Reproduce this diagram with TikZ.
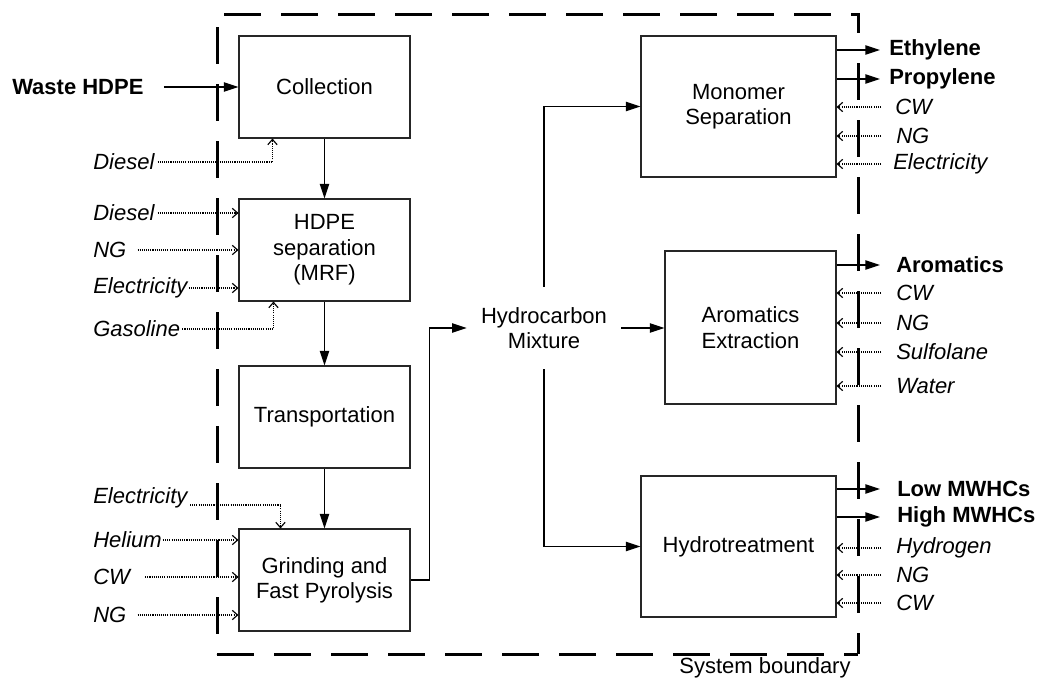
\documentclass[tikz,border=0pt]{standalone}
\usepackage{fontspec}
\setmainfont{Liberation Sans}
\usetikzlibrary{arrows.meta,calc}
\begin{document}
\begin{tikzpicture}[x=0.75pt,y=-0.75pt,
  font=\fontsize{16.5pt}{19pt}\selectfont,
  box/.style={draw=black!85, line width=0.8pt, rectangle, inner sep=0pt, align=center},
  smallbox/.style={box, minimum width=128.25pt, minimum height=76.5pt},
  bigbox/.style={box, minimum width=146.25pt, minimum height=105.75pt},
  flow/.style={line width=1pt, -{Triangle[length=11pt,width=7pt]}},
  inflow/.style={black, line width=0.85pt, dash pattern=on 0.8pt off 0.8pt, -{Straight Barb[length=4pt,width=7pt]}},
  lab/.style={inner sep=0pt, font=\fontsize{16.5pt}{19pt}\selectfont\itshape},
  blab/.style={inner sep=0pt, font=\fontsize{16.5pt}{19pt}\selectfont\bfseries},
  bnd/.style={line width=2.25pt, dash pattern=on 27.75pt off 15pt}
]
\useasboundingbox (0,0) rectangle (1037,678);

% system boundary
\draw[bnd, dash phase=33pt] (217,14) -- (217,654);
\draw[bnd, dash phase=37.5pt] (217,14) -- (858,14) -- (858,33);
\draw[bnd] (858,63) -- (858,654);
\draw[bnd] (217,654) -- (858,654);
\node[anchor=base] (sb) at (765,673) {System boundary};

% process boxes
\node[smallbox] (coll) at (324.5,87) {Collection};
\node[smallbox] (hdpe) at (324.5,250) {HDPE\\separation\\(MRF)};
\node[smallbox] (trans) at (324.5,417) {Transportation};
\node[smallbox] (grind) at (324.5,580) {Grinding and\\Fast Pyrolysis};
\node[bigbox] (mono) at (738.5,106.5) {Monomer\\Separation};
\node[box, minimum width=128.25pt, minimum height=114.75pt] (arom) at (750.5,327.5) {Aromatics\\Extraction};
\node[bigbox] (hydro) at (738.5,546.5) {Hydrotreatment};
\node[inner sep=0pt, minimum width=115.5pt, minimum height=61.5pt, align=center] (hc) at (544,328) {Hydrocarbon\\Mixture};

% main flows
\node[blab, anchor=west] (waste) at (12,87) {Waste HDPE};
\draw[flow] ([xshift=15pt]waste.east) -- (coll.west);
\draw[flow] (coll) -- (hdpe);
\draw[flow] (hdpe) -- (trans);
\draw[flow] (trans) -- (grind);
\draw[flow] (grind.east) -- ++(19,0) |- (hc.west);
\draw[flow] (hc.north) |- (mono.west);
\draw[flow] (hc.east) -- (hc.east -| arom.west);
\draw[flow] (hc.south) |- (hydro.west);

% left inputs
\node[lab, anchor=west] (d1) at (93,162) {Diesel};
\draw[inflow] ([xshift=2.25pt]d1.east) -| ([xshift=25.5pt]coll.south west);
\node[lab, anchor=west] (d2) at (93,213) {Diesel};
\draw[inflow] ([xshift=2.25pt]d2.east) -- (d2 -| hdpe.west);
\node[lab, anchor=west] (ng1) at (93,250) {NG};
\draw[inflow] ([xshift=8.25pt]ng1.east) -- (ng1 -| hdpe.west);
\node[lab, anchor=west] (el1) at (93,288) {Electricity};
\draw[inflow] ([xshift=0.75pt]el1.east) -- (el1 -| hdpe.west);
\node[lab, anchor=west] (gas) at (93,329) {Gasoline};
\draw[inflow] ([xshift=1.5pt]gas.east) -| ([xshift=26.25pt]hdpe.south west);
\node[lab, anchor=west] (el2) at (93,498) {Electricity};
\coordinate (el2s) at (190,505);
\draw[inflow] (el2s) -| ([xshift=31.5pt]grind.north west);
\node[lab, anchor=west] (he) at (93,540) {Helium};
\draw[inflow] ([xshift=0.75pt]he.east) -- (he -| grind.west);
\node[lab, anchor=west] (cw1) at (93,577) {CW};
\draw[inflow] ([xshift=11.25pt]cw1.east) -- (cw1 -| grind.west);
\node[lab, anchor=west] (ng2) at (93,615) {NG};
\draw[inflow] ([xshift=8.25pt]ng2.east) -- (ng2 -| grind.west);

% right side columns
\coordinate (tip) at (880,0);
\coordinate (src) at (881,0);

% monomer separation
\node[blab, anchor=west] (eth) at (889,50) {Ethylene};
\draw[flow] (eth -| mono.east) -- (eth -| tip);
\node[blab, anchor=west] (pro) at (889,79) {Propylene};
\draw[flow] (pro -| mono.east) -- (pro -| tip);
\node[lab, anchor=west] (mcw) at (895,107) {CW};
\draw[inflow] (mcw -| src) -- (mcw -| mono.east);
\node[lab, anchor=west] (mng) at (896,136) {NG};
\draw[inflow] (mng -| src) -- (mng -| mono.east);
\node[lab, anchor=west] (mel) at (893,164) {Electricity};
\draw[inflow] (mel -| src) -- (mel -| mono.east);

% aromatics extraction
\node[blab, anchor=west] (aro) at (896,265) {Aromatics};
\draw[flow] (aro -| arom.east) -- (aro -| tip);
\node[lab, anchor=west] (acw) at (896,293) {CW};
\draw[inflow] (acw -| src) -- (acw -| arom.east);
\node[lab, anchor=west] (ang) at (896,323) {NG};
\draw[inflow] (ang -| src) -- (ang -| arom.east);
\node[lab, anchor=west] (asu) at (896,352) {Sulfolane};
\draw[inflow] (asu -| src) -- (asu -| arom.east);
\node[lab, anchor=west] (awa) at (896,386) {Water};
\draw[inflow] (awa -| src) -- (awa -| arom.east);

% hydrotreatment
\node[blab, anchor=west] (low) at (897,489) {Low MWHCs};
\draw[flow] (low -| hydro.east) -- (low -| tip);
\node[blab, anchor=west] (high) at (897,517) {High MWHCs};
\draw[flow] (high -| hydro.east) -- (high -| tip);
\node[lab, anchor=west] (hhy) at (896,548) {Hydrogen};
\draw[inflow] (hhy -| src) -- (hhy -| hydro.east);
\node[lab, anchor=west] (hng) at (896,575) {NG};
\draw[inflow] (hng -| src) -- (hng -| hydro.east);
\node[lab, anchor=west] (hcw) at (896,603) {CW};
\draw[inflow] (hcw -| src) -- (hcw -| hydro.east);
\end{tikzpicture}
\end{document}
